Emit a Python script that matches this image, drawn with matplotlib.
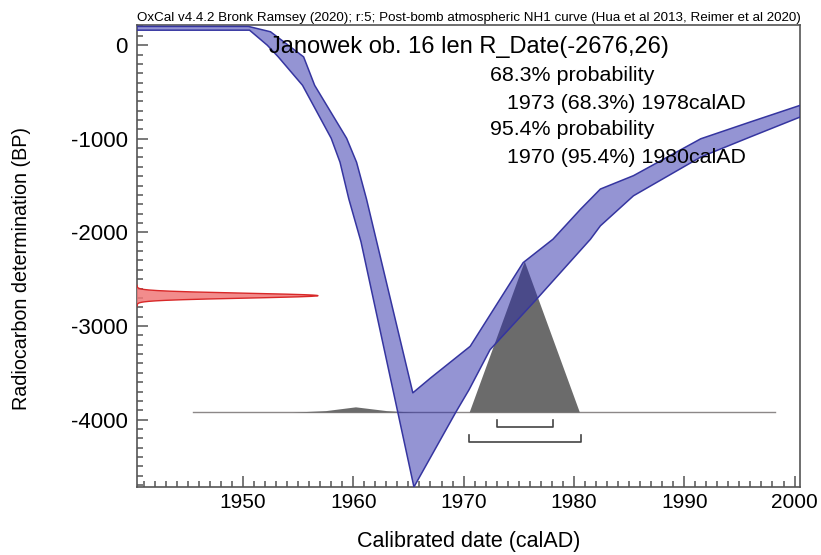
import matplotlib
matplotlib.use("Agg")
import matplotlib.pyplot as plt
import matplotlib.ticker as mticker
import numpy as np

plt.rcParams["font.family"] = ["Liberation Sans", "DejaVu Sans"]

# calibration curve band (NH1 post-bomb), upper and lower edges
upper_years = [1940.4, 1950.5, 1952.5, 1955.5, 1956.5, 1959.4, 1960.3, 1961.2, 1965.4,
               1967.0, 1970.6, 1975.4, 1978.1, 1980.6, 1982.4, 1985.4, 1991.5, 1996.0, 2000.5]
upper_bp = [200, 200, 143, -125, -429, -995, -1251, -1644, -3714,
            -3556, -3217, -2323, -2073, -1753, -1537, -1394, -1000, -820, -643]
lower_years = [1940.4, 1950.6, 1952.2, 1953.2, 1955.4, 1958.0, 1958.8, 1959.6, 1960.7,
               1965.5, 1969.3, 1970.5, 1972.4, 1976.6, 1981.5, 1982.4, 1985.4, 1991.5,
               1996.0, 2000.5]
lower_bp = [160, 160, 0, -125, -429, -995, -1251, -1644, -2100,
            -4720, -3920, -3680, -3253, -2716, -2073, -1930, -1609, -1195, -980, -768]

# radiocarbon date
date_mu = -2676
date_sigma = 26

# calibrated probability distribution (relative)
cal_years = [1945.5, 1954.5, 1957.5, 1960.2, 1963.0, 1965.5, 1970.5, 1975.5, 1980.5, 1984.0, 1998.2]
cal_prob = [0.0, 0.0, 0.01, 0.035, 0.01, 0.0, 0.0, 1.0, 0.0, 0.0, 0.0]

# hpd ranges
range_68 = [1973.0, 1978.1]
range_95 = [1970.5, 1980.6]

header = ("OxCal v4.4.2 Bronk Ramsey (2020); r:5; Post-bomb atmospheric NH1 curve "
          "(Hua et al 2013, Reimer et al 2020)")
title = "Janowek ob. 16 len R_Date(-2676,26)"
info_lines = ["68.3% probability", "1973 (68.3%) 1978calAD",
              "95.4% probability", "1970 (95.4%) 1980calAD"]

XMIN, XMAX = 1940.4, 2000.5
YMIN, YMAX = -4720, 215

fig = plt.figure(figsize=(8.21, 5.55), dpi=100)
ax = fig.add_axes([0.1669, 0.1225, 0.8076, 0.8324])

# probability distribution
base = -3920
scale = 1614
ax.plot([cal_years[0], cal_years[-1]], [base, base], color="#8c8888", lw=1.0, zorder=1)
cy = base + np.array(cal_prob) * scale
ax.fill_between(cal_years, base, cy, color="#6b6b6b", lw=0, zorder=2)

# calibration band
poly_x = upper_years + lower_years[::-1]
poly_y = upper_bp + lower_bp[::-1]
ax.fill(poly_x, poly_y, facecolor="#2b2ba8", alpha=0.5, edgecolor="none", zorder=3)
ax.plot(upper_years, upper_bp, color="#3535a0", lw=1.1, zorder=4)
ax.plot(lower_years, lower_bp, color="#3535a0", lw=1.1, zorder=4)

# radiocarbon date, gaussian drawn from the y axis
yy = np.linspace(date_mu - 4.2 * date_sigma, date_mu + 4.2 * date_sigma, 200)
dens = np.exp(-0.5 * ((yy - date_mu) / date_sigma) ** 2)
xx = XMIN + dens * 16.4
ax.fill_betweenx(yy, XMIN, xx, facecolor="#f07878", edgecolor="none", alpha=0.85, zorder=5)
ax.plot(xx, yy, color="#d82828", lw=1.0, zorder=6)

# hpd brackets
for (a, b), yb in zip([range_68, range_95], [-4075, -4236]):
    ax.plot([a, a, b, b], [yb + 70, yb, yb, yb + 70], color="#444444", lw=1.2, zorder=6)

ax.set_xlim(XMIN, XMAX)
ax.set_ylim(YMIN, YMAX)
ax.set_xticks([1950, 1960, 1970, 1980, 1990, 2000])
ax.set_yticks([0, -1000, -2000, -3000, -4000])
ax.set_yticklabels(["0", "-1000", "-2000", "-3000", "-4000"])
ax.xaxis.set_minor_locator(mticker.MultipleLocator(1))
ax.yaxis.set_minor_locator(mticker.MultipleLocator(100))
ax.tick_params(which="both", direction="in", colors="#555555", labelcolor="black",
               labelsize=15, width=1.1)
ax.tick_params(which="major", length=8)
ax.tick_params(which="minor", length=4)
ax.tick_params(axis="x", which="major", pad=4)
ax.tick_params(axis="y", which="major", pad=6.5, labelsize=16)
for s in ax.spines.values():
    s.set_color("#555555")
    s.set_linewidth(1.2)

ax.set_xlabel("Calibrated date (calAD)", fontsize=15.5, va="baseline")
ax.xaxis.set_label_coords(0.5, -0.13)
ax.set_ylabel("Radiocarbon determination (BP)", fontsize=14.2, va="center")
ax.yaxis.set_label_coords(-0.1735, 0.474)

ax.text(0.0, 1.0087, header, transform=ax.transAxes, fontsize=9.6, ha="left", va="baseline")

ax.text(0.50, 0.9387, title, transform=ax.transAxes, fontsize=17, ha="center",
        va="baseline", zorder=10)
xs = [0.532, 0.558, 0.532, 0.558]
ys = [0.878, 0.818, 0.762, 0.701]
for t, x, y in zip(info_lines, xs, ys):
    ax.text(x, y, t, transform=ax.transAxes, fontsize=15.4, ha="left", va="baseline", zorder=10)

fig.savefig("out.png", dpi=100)
